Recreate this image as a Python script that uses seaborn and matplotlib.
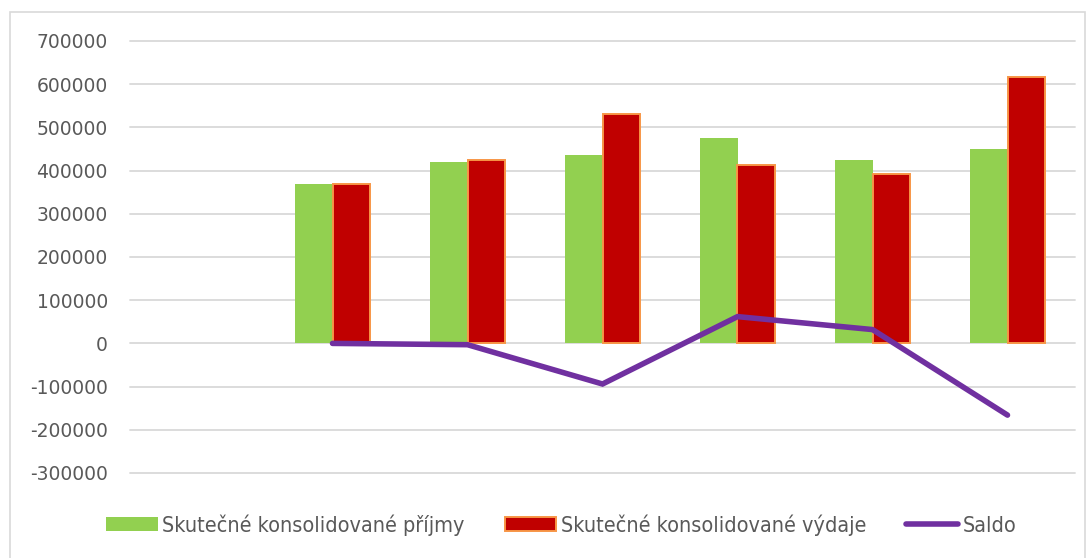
import numpy as np
import pandas as pd
import seaborn as sns
import matplotlib.pyplot as plt
from matplotlib.patches import Patch, Rectangle
from matplotlib.lines import Line2D

# values (first category has no data)
categories = ["1", "2", "3", "4", "5", "6", "7"]
prijmy = [np.nan, 368000, 421000, 437000, 474500, 425000, 450000]
vydaje = [np.nan, 368000, 424000, 531000, 412500, 393000, 616000]
saldo = [np.nan, 0, -3000, -94000, 62000, 32000, -166000]

lab_prijmy = "Skutečné konsolidované příjmy"
lab_vydaje = "Skutečné konsolidované výdaje"
lab_saldo = "Saldo"

green = "#92D050"
red = "#C00000"
orange = "#F79646"
purple = "#7030A0"
grey_txt = "#595959"

sns.set_theme(style="white")
plt.rcParams['font.family'] = ['DejaVu Sans']

df = pd.DataFrame({
    "kat": categories * 2,
    "hodnota": prijmy + vydaje,
    "serie": [lab_prijmy] * len(categories) + [lab_vydaje] * len(categories),
})

fig = plt.figure(figsize=(10.92, 5.58), dpi=100)
ax = fig.add_axes([130 / 1092, 1 - 473 / 558, 945 / 1092, 432 / 558])

sns.barplot(data=df, x="kat", y="hodnota", hue="serie", order=categories,
            palette=[green, red], width=0.56, gap=0, saturation=1,
            linewidth=0, legend=False, ax=ax)
for bar in ax.containers[1]:
    bar.set_edgecolor(orange)
    bar.set_linewidth(1.4)

ax.plot(np.arange(len(categories)), saldo, color=purple, lw=4,
        solid_capstyle="round", solid_joinstyle="miter", zorder=5)

ax.set_xlim(-0.5, len(categories) - 0.5)
ax.set_ylim(-300000, 700000)
ax.set_yticks(np.arange(-300000, 700001, 100000))
ax.yaxis.set_major_formatter(plt.FuncFormatter(lambda v, p: f"{v:.0f}"))
ax.tick_params(axis="y", length=0, pad=16, labelsize=13.5, labelcolor=grey_txt)
ax.set_xticks([])
ax.set_xlabel("")
ax.set_ylabel("")
ax.grid(axis="y", color="#D9D9D9", lw=1.3)
for gl in ax.get_ygridlines():
    gl.set_clip_on(False)
ax.set_axisbelow(True)
for s in ax.spines.values():
    s.set_visible(False)

handles = [Patch(facecolor=green, edgecolor="none", label=lab_prijmy),
           Patch(facecolor=red, edgecolor=orange, lw=1.4, label=lab_vydaje),
           Line2D([0], [0], color=purple, lw=4, solid_capstyle="round", label=lab_saldo)]
fig.legend(handles=handles, loc="center left", bbox_to_anchor=(106 / 1092, 1 - 525 / 558), ncol=3,
           frameon=False, labelcolor=grey_txt, handlelength=2.4,
           handleheight=0.65, handletextpad=0.22, columnspacing=1.85,
           borderpad=0, borderaxespad=0,
           prop={"family": ["DejaVu Sans"], "stretch": "condensed", "size": 15.5})

fig.patches.append(Rectangle((10 / 1092, -0.01), 1075 / 1092, 1 - 12 / 558 + 0.01,
                             transform=fig.transFigure, fill=False,
                             edgecolor="#D9D9D9", lw=1.2))

fig.savefig("out.png", dpi=100)
